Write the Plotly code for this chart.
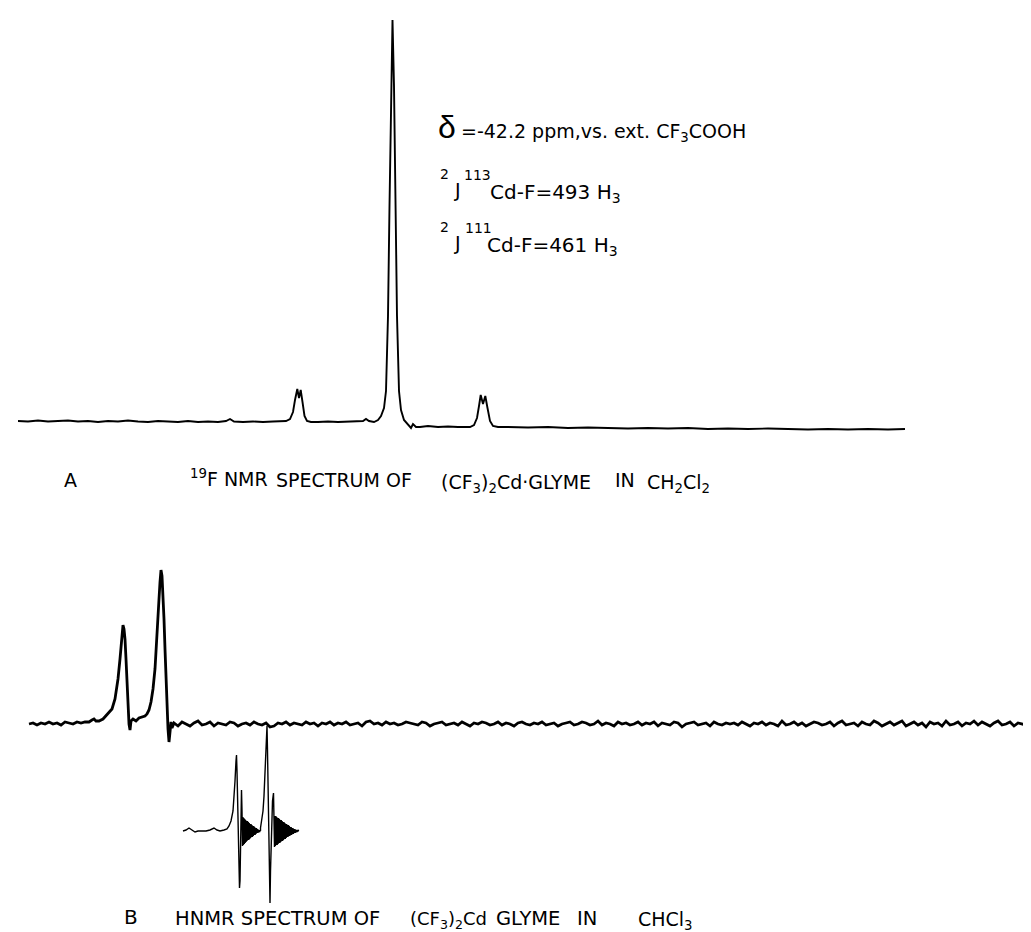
import numpy as np
import plotly.graph_objects as go

# ================= DATA =================
# Spectrum A : 19F NMR, x = chart position, y = intensity above the trace baseline
a_x = [10, 20, 30, 40, 50, 60, 70, 80, 90, 100, 110, 120, 130, 140, 150, 160, 170, 180, 190, 200,
       210, 218, 222, 226, 235, 245, 255, 265, 272, 278, 282, 285, 287, 289.3, 291, 292.7, 294.5,
       296.5, 299, 303, 310, 320, 330, 340, 350, 355, 358, 361, 366, 370, 373, 376, 378, 380, 381.5,
       383, 384.5, 386, 387.5, 389, 391, 393, 396, 400, 403, 405, 408, 412, 420, 430, 440, 450, 458,
       462, 466, 469, 471, 472.7, 475, 477.3, 479.5, 482, 485, 490, 500, 520, 540, 560, 580, 600,
       620, 640, 660, 680, 700, 720, 740, 760, 780, 800, 820, 840, 860, 880, 897]
a_y = [5, 4.5, 5.5, 4.5, 5, 5.5, 4.5, 5, 4, 5, 4.5, 5.5, 4.5, 4, 5, 4.5, 4, 5, 4, 4.5,
       4, 5, 7, 4.5, 4, 4.5, 4, 4.5, 5, 5, 7, 14, 26, 37, 28, 36, 24,
       10, 5, 4, 4, 4.5, 4, 4.5, 5, 5, 7, 5, 4, 6, 10, 18, 35, 110, 220,
       340, 406, 340, 220, 110, 35, 16, 6, 2, -2, 2, -1, -1, 0, -1, -0.5, -1, -1,
       -1, 1, 8, 20, 31, 22, 30, 18, 5, 0, -1, -1, -1.5, -1, -2, -1.5, -2,
       -2.5, -2, -2.5, -2, -3, -2.5, -3, -2.5, -3, -3.5, -3, -3.5, -3, -3.5, -3]

# Spectrum B : 1H NMR
b_left_x = [21, 25, 29, 33, 37, 41, 45, 49, 53, 57, 61, 65, 69, 73, 77, 81, 84, 86, 88, 91, 95,
            100, 104, 107, 110, 112, 113, 114, 115, 116, 117, 118, 119, 120, 121, 122, 123, 125,
            128, 131, 134, 137, 139, 141, 143, 145, 147, 149, 150, 151, 152, 153, 154, 155, 156,
            157, 158, 159, 160, 161, 162, 163, 164]
b_left_y = [0, 1, -1, 1, 0, 2, 0, 1, -1, 2, 1, 0, 2, 1, 2, 2, 4, 5, 3, 3, 5,
            10, 15, 25, 45, 65, 80, 92, 99, 95, 85, 65, 40, 15, 0, -6, 3, 5,
            3, 6, 7, 8, 10, 14, 22, 35, 55, 85, 105, 125, 142, 154, 148, 130, 105,
            75, 45, 15, -5, -18, -8, 2, -4]
b_noise_y = [1, -2, 2, 0, -2, 1, 3, -1, 0, 2, -2, 1, 0, -1, 2, 1, -2, 0, 1, -1,
             2, 0, -1, 1, -3, -2, 1, 0, 2, -1, 1, 0, -1, 2, 0, 1, -2, 1, 0, 2,
             -1, 1, 0, 2, -1, 0, 1, -2, 2, 3, 0, 1, -1, 2, 0, 1, -1, 0, 2, 1,
             0, -1, 2, 1, -2, 0, 1, 2, -1, 0, 1, -1, 2, 0, -2, 1, 0, 2, 1, -1,
             0, 2, -1, 1, 0, -2, 1, 2, 0, -1, 1, 0, 2, -1, 0, 1, -2, 0, 1, 2,
             -1, 0, 2, 1, -1, 0, 3, -1, 1, 0, -2, 2, 0, 1, -1, 0, 2, -1, 1, 0,
             2, -2, 1, 0, -1, 2, 1, -3, 0, 1, 2, -1, 0, 1, -2, 2, 0, -1, 1, 0,
             1, -1, 2, 0, -2, 1, 0, 2, -1, 1, 0, -2, 3, -1, 0, 2, -1, 1, -2, 0,
             2, 1, -1, 0, 2, -2, 1, 3, -1, 0, 1, -2, 2, 0, -1, 3, 1, -2, 0, 2,
             -1, 1, 3, -2, 0, 2, -1, 1, -3, 2, 0, 1, -2, 3, -1, 0, 2, -2, 1, 0,
             3, -1, 2, 0, -2, 1, 3, -1, 0, 2, -2, 1, 0, -1, 2, 1, -2]
b_noise_x = list(166 + 4 * np.arange(len(b_noise_y)))

# Expanded inset of spectrum B
i_head_x = [175, 178, 181, 184, 187, 190, 194, 198, 202, 206, 209, 212, 216, 219, 221, 223, 225,
            226, 227, 228, 228.5, 229, 230, 230.5, 231, 231.5, 232, 232.5, 233, 233.5, 234]
i_head_y = [0, 1, 3, 1, -1, 0, 0, 0, 1, 3, 1, 0, 1, 2, 5, 10, 20,
            32, 50, 70, 76, 60, 20, -20, -45, -57, -50, -10, 25, 41, 20]
ring1_y = [-15, 14, -14, 13, -13, 12, -12, 11, -11, 10, -10, 10, -9, 9, -9, 8, -8, 7, -7, 7,
           -6, 6, -6, 5, -5, 5, -4, 4, -4, 3, -3, 3, -2, 2, -2, 1.5, -1.5, 1, -1, 0.5, 0]
ring1_x = list(234.5 + 0.45 * np.arange(len(ring1_y)))
i_mid_x = [252.5, 254, 255, 256, 257, 258, 259, 259.5, 260.5, 261, 261.5, 262, 262.5, 263.5,
           264.5, 265.5, 266]
i_mid_y = [3, 12, 20, 35, 55, 80, 105, 80, 20, -30, -60, -72, -40, 10,
           30, 38, 20]
ring2_y = [-16, 15, -15, 15, -14, 14, -14, 13, -13, 13, -12, 12, -12, 11, -11, 11, -10, 10, -10, 9,
           -9, 9, -8, 8, -8, 7, -7, 7, -6, 6, -6, 6, -5, 5, -5, 4, -4, 4, -4, 3,
           -3, 3, -3, 2, -2, 2, -2, 1.5, -1.5, 1, -1, 1, -0.5, 0.5, 0]
ring2_x = list(266.5 + 0.45 * np.arange(len(ring2_y)))

b_x = b_left_x + b_noise_x
b_y = b_left_y + b_noise_y
i_x = i_head_x + ring1_x + i_mid_x + ring2_x
i_y = i_head_y + ring1_y + i_mid_y + ring2_y

# ================= LAYOUT =================
W, H = 1031, 932
A_BASE, B_BASE, I_BASE = 418, 716, 823   # baseline rows of the three traces


def yr(base):
    return [base - H, base]


fig = go.Figure()
fig.add_trace(go.Scatter(x=a_x, y=a_y, mode="lines", yaxis="y",
                         line=dict(color="black", width=1.9), hoverinfo="skip"))
fig.add_trace(go.Scatter(x=b_x, y=b_y, mode="lines", yaxis="y2",
                         line=dict(color="black", width=2.8), hoverinfo="skip"))
fig.add_trace(go.Scatter(x=i_x, y=i_y, mode="lines", yaxis="y3",
                         line=dict(color="black", width=1.4), hoverinfo="skip"))

FONT = "DejaVu Sans, Verdana, sans-serif"
FONT_L = "Liberation Sans, Arial, sans-serif"


def py(p):
    return 1 - p / H


ann = [
    # delta / coupling constants block
    dict(x=428, y=py(119), text="δ", font=dict(size=32, family=FONT_L)),
    dict(x=451, y=py(124), text="=-42.2 ppm,vs. ext. CF<sub>3</sub>COOH", font=dict(size=19)),
    dict(x=430, y=py(166), text="2", font=dict(size=14)),
    dict(x=444, y=py(182), text="J", font=dict(size=19)),
    dict(x=454, y=py(167), text="113", font=dict(size=14)),
    dict(x=480, y=py(185), text="Cd-F=493 H<sub>3</sub>", font=dict(size=20)),
    dict(x=430, y=py(219), text="2", font=dict(size=14)),
    dict(x=444, y=py(235), text="J", font=dict(size=19)),
    dict(x=455, y=py(220), text="111", font=dict(size=14)),
    dict(x=477, y=py(238), text="Cd-F=461 H<sub>3</sub>", font=dict(size=20)),
    # caption A
    dict(x=54, y=py(472), text="A", font=dict(size=19)),
    dict(x=180, y=py(470), text="<sup>19</sup>F NMR", font=dict(size=19)),
    dict(x=266, y=py(472), text="SPECTRUM OF", font=dict(size=19)),
    dict(x=431, y=py(475), text="(CF<sub>3</sub>)<sub>2</sub>Cd·GLYME", font=dict(size=19)),
    dict(x=605, y=py(472), text="IN", font=dict(size=19)),
    dict(x=637, y=py(475), text="CH<sub>2</sub>Cl<sub>2</sub>", font=dict(size=19)),
    # caption B
    dict(x=114, y=py(909), text="B", font=dict(size=20)),
    dict(x=165, y=py(910), text="HNMR SPECTRUM OF", font=dict(size=19.5)),
    dict(x=400, y=py(912), text="(CF<sub>3</sub>)<sub>2</sub>Cd", font=dict(size=18)),
    dict(x=486, y=py(910), text="GLYME", font=dict(size=19.5)),
    dict(x=567, y=py(910), text="IN", font=dict(size=19.5)),
    dict(x=628, y=py(912), text="CHCl<sub>3</sub>", font=dict(size=19)),
]
annotations = []
for a in ann:
    f = dict(family=FONT, color="black")
    f.update(a.pop("font"))
    annotations.append(dict(xref="x", yref="paper", xanchor="left", yanchor="middle",
                            showarrow=False, font=f, **a))

axis_off = dict(visible=False, showgrid=False, zeroline=False, fixedrange=True)
fig.update_layout(
    width=W, height=H,
    margin=dict(l=0, r=0, t=0, b=0),
    paper_bgcolor="white", plot_bgcolor="white",
    showlegend=False,
    xaxis=dict(range=[0, W], **axis_off),
    yaxis=dict(range=yr(A_BASE), domain=[0, 1], **axis_off),
    yaxis2=dict(range=yr(B_BASE), domain=[0, 1], overlaying="y", **axis_off),
    yaxis3=dict(range=yr(I_BASE), domain=[0, 1], overlaying="y", **axis_off),
    annotations=annotations,
)

fig.write_html("out.html")
